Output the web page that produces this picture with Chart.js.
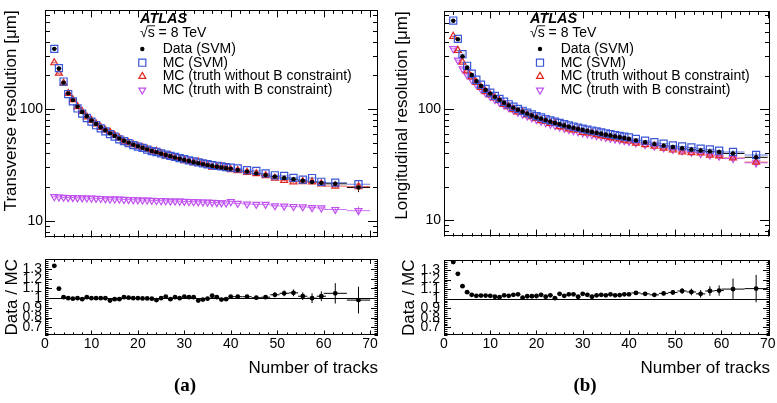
<!DOCTYPE html>
<html>
<head>
<meta charset="utf-8">
<script src="https://cdn.jsdelivr.net/npm/chart.js@4.4.1/dist/chart.umd.min.js"></script>
<style>
  body { margin: 0; background: #fff; width: 777px; height: 403px; overflow: hidden; position: relative; }
  canvas { position: absolute; }
  .tag { position: absolute; font: bold 19px "Liberation Serif", "DejaVu Serif", serif; transform: translate(-50%, -50%); color: #000; }
</style>
</head>
<body>
<canvas id="mainT" width="390" height="248" style="left:0;top:0"></canvas>
<canvas id="ratioT" width="390" height="132" style="left:0;top:248px"></canvas>
<canvas id="mainL" width="387" height="248" style="left:390px;top:0"></canvas>
<canvas id="ratioL" width="387" height="132" style="left:390px;top:248px"></canvas>
<div class="tag" style="left:185px;top:385px">(a)</div>
<div class="tag" style="left:585px;top:385px">(b)</div>
<script>
// bins: number of tracks (bin centres) and half widths
const nTracks = [2, 3, 4, 5, 6, 7, 8, 9, 10, 11, 12, 13, 14, 15, 16, 17, 18, 19, 20,
  21, 22, 23, 24, 25, 26, 27, 28, 29, 30, 31, 32, 33, 34, 35, 36, 37, 38, 39, 40,
  41.5, 43.5, 45.5, 47.5, 49.5, 51.5, 53.5, 55.5, 57.5, 59.5, 62.5, 67.5];
const binHalfWidth = [0.5, 0.5, 0.5, 0.5, 0.5, 0.5, 0.5, 0.5, 0.5, 0.5, 0.5, 0.5, 0.5, 0.5, 0.5, 0.5, 0.5, 0.5, 0.5,
  0.5, 0.5, 0.5, 0.5, 0.5, 0.5, 0.5, 0.5, 0.5, 0.5, 0.5, 0.5, 0.5, 0.5, 0.5, 0.5, 0.5, 0.5, 0.5, 0.5,
  1, 1, 1, 1, 1, 1, 1, 1, 1, 1, 2.5, 2.5];
const relErr = [0.004, 0.004, 0.004, 0.004, 0.004, 0.004, 0.004, 0.004, 0.004, 0.004, 0.004, 0.004, 0.004, 0.004, 0.004, 0.004, 0.004, 0.004, 0.004,
  0.004, 0.004, 0.004, 0.004, 0.004, 0.004, 0.004, 0.004, 0.004, 0.004, 0.004, 0.004, 0.004, 0.004, 0.004, 0.004, 0.004, 0.004, 0.004, 0.004,
  0.008, 0.009, 0.01, 0.012, 0.014, 0.016, 0.018, 0.02, 0.025, 0.028, 0.04, 0.09];

// (a) transverse resolution [um]
const dataTrans = [345, 230, 172, 138, 120, 105, 94, 86, 79, 73.5, 68.5, 64.5, 60.5, 57.5, 54.5, 52, 50, 48, 46.5,
  45, 43.5, 42, 41, 39.8, 38.7, 37.7, 36.7, 35.8, 35, 34.2, 33.4, 32.7, 32, 31.4, 30.9, 30.4, 29.9, 29.5, 29.1,
  28.5, 27.5, 26.5, 25.6, 24.8, 24.1, 23.5, 22.8, 22.2, 21.8, 21.4, 19.8];
const mcSvmTrans = [345, 232, 176, 136, 117, 101, 91, 83, 77, 71.5, 67, 63, 59.5, 56.5, 53.5, 51.5, 49.5, 47.5, 46,
  44.8, 43.3, 42, 41.2, 40, 39, 38, 37.2, 36.3, 35.5, 34.7, 34, 33.3, 32.6, 32, 31.5, 31, 30.6, 30.2, 29.8,
  29.4, 28.3, 27.9, 26.5, 25.5, 25.2, 24.2, 23.3, 24.1, 22.3, 21.9, 21.2];
const truthTrans = [259, 209, 170, 138, 121, 105, 95, 85, 79, 73.5, 68.5, 64.5, 62, 58, 55, 51.5, 49.8, 48, 46.5,
  45.1, 43.6, 42.2, 41.8, 39.8, 38.1, 38.1, 36.3, 35.8, 34.5, 33.9, 33.1, 33.5, 32.5, 31.6, 30.1, 30.1, 30.4, 29.8, 28.7,
  28.1, 27.1, 26.4, 25.3, 24, 23, 22.3, 22.4, 22.2, 21.4, 20.4, 20.2];
const truthBTrans = [16.4, 16.3, 16.2, 16.1, 16.1, 16.0, 16.0, 15.95, 15.9, 15.85, 15.8, 15.7, 15.6, 15.65, 15.6, 15.5, 15.45, 15.4, 15.35,
  15.3, 15.3, 15.2, 15.15, 15.1, 15.05, 15.0, 15.0, 14.95, 14.9, 14.85, 14.8, 14.75, 14.7, 14.65, 14.6, 14.5, 14.45, 14.4, 14.8,
  14.3, 14.1, 14.0, 14.0, 13.6, 13.5, 13.4, 13.3, 13.1, 13.0, 12.6, 12.3];
const ratioTrans = [1.334, 1.098, 1.01, 1.0, 0.995, 1.0, 0.99, 1.01, 1.0, 1.0, 1.0, 1.0, 0.975, 0.99, 0.99, 1.01, 1.005, 1.0, 1.0,
  0.997, 0.997, 0.995, 0.98, 1.0, 1.015, 0.99, 1.01, 1.0, 1.015, 1.01, 1.01, 0.975, 0.985, 0.995, 1.025, 1.01, 0.985, 0.99, 1.015,
  1.015, 1.015, 1.005, 1.01, 1.035, 1.05, 1.055, 1.02, 1.0, 1.02, 1.05, 0.98];
const ratioErrTrans = [0.004, 0.004, 0.004, 0.004, 0.004, 0.004, 0.004, 0.004, 0.004, 0.004, 0.004, 0.004, 0.004, 0.004, 0.004, 0.004, 0.004, 0.004, 0.004,
  0.006, 0.006, 0.006, 0.006, 0.006, 0.006, 0.006, 0.006, 0.006, 0.006, 0.006, 0.006, 0.006, 0.006, 0.006, 0.006, 0.006, 0.006, 0.006, 0.006,
  0.012, 0.014, 0.016, 0.02, 0.026, 0.03, 0.035, 0.04, 0.05, 0.05, 0.105, 0.138];

// (b) longitudinal resolution [um]
const dataLong = [628, 427, 299, 236, 203, 179, 162, 149, 138, 129, 121, 114, 108, 103, 98.5, 94.5, 91, 87.5, 84.5,
  82, 79.5, 77, 75, 73, 71, 69.3, 67.7, 66.2, 64.8, 63.5, 62.2, 61, 59.8, 58.7, 57.7, 56.7, 55.7, 54.8, 53.8,
  52.2, 50.2, 48.3, 46.8, 45.5, 44.3, 43.2, 42.3, 41.5, 41, 39.8, 36.7];
const mcSvmLong = [630, 430, 313, 246, 209, 184, 166, 152, 141, 131.5, 123.5, 116.5, 110.5, 105, 100.5, 96.5, 93, 89.5, 86.5,
  84, 81.3, 79, 77, 75, 73, 71.2, 69.5, 68, 66.6, 65.2, 64, 62.8, 61.6, 60.5, 59.4, 58.3, 57.3, 56.4, 55.6,
  53.8, 51.8, 50.3, 48.8, 47, 46, 45, 44, 43.2, 42.1, 41, 38.5];
const truthLong = [454, 339, 265, 221, 195, 174, 157, 144, 134, 126.5, 119, 110, 105, 99, 94.3, 93.6, 88.8, 85.4, 82.2,
  78.8, 77.9, 74.4, 74.6, 69.5, 68.9, 66.3, 64.8, 64.9, 61.7, 61.1, 61, 58.9, 57.5, 56.7, 55.2, 54.8, 53.7, 52.4, 51.5,
  49.2, 47.8, 46.4, 44.4, 42.7, 41, 40.4, 40.3, 38.4, 37.8, 36.2, 33.2];
const truthBLong = [351, 277, 231, 203, 184, 167, 152, 140, 130, 122, 115, 108.5, 103, 98, 93.5, 90, 86.5, 83.3, 80.3,
  77.7, 75.3, 73, 71, 69, 67.2, 65.5, 63.9, 62.5, 61.1, 59.9, 58.7, 57.6, 56.5, 55.5, 54.5, 53.6, 52.7, 51.9, 51.1,
  49.5, 47.8, 46.3, 44.7, 43.3, 42, 40.8, 39.7, 38.5, 37.6, 35.8, 32.7];
const ratioLong = [1.383, 1.26, 1.13, 1.068, 1.04, 1.03, 1.032, 1.032, 1.03, 1.02, 1.015, 1.035, 1.03, 1.04, 1.045, 1.01, 1.025, 1.025, 1.028,
  1.04, 1.02, 1.035, 1.005, 1.05, 1.03, 1.045, 1.045, 1.02, 1.05, 1.04, 1.02, 1.035, 1.04, 1.035, 1.045, 1.035, 1.037, 1.045, 1.045,
  1.06, 1.05, 1.04, 1.055, 1.065, 1.08, 1.07, 1.05, 1.08, 1.085, 1.1, 1.105];
const ratioErrLong = [0.004, 0.004, 0.004, 0.004, 0.004, 0.004, 0.004, 0.004, 0.004, 0.004, 0.004, 0.004, 0.004, 0.004, 0.004, 0.004, 0.004, 0.004, 0.004,
  0.006, 0.006, 0.006, 0.006, 0.006, 0.006, 0.006, 0.006, 0.006, 0.006, 0.006, 0.006, 0.006, 0.006, 0.006, 0.006, 0.006, 0.006, 0.006, 0.006,
  0.012, 0.014, 0.018, 0.02, 0.025, 0.03, 0.035, 0.04, 0.05, 0.054, 0.11, 0.143];

const FONT = '"Liberation Sans", Arial, Helvetica, sans-serif';
Chart.defaults.font.family = FONT;
Chart.defaults.color = '#000';

const styles = {
  data: { label: 'Data (SVM)', pointStyle: 'circle', pointRadius: 2.2, borderWidth: 0,
    borderColor: '#000', backgroundColor: '#000', barColor: '#000' },
  mcSvm: { label: 'MC (SVM)', pointStyle: 'rect', pointRadius: 5, borderWidth: 1.2,
    borderColor: '#3a55d6', backgroundColor: 'rgba(0,0,0,0)', barColor: 'rgba(58,85,214,0.75)' },
  truth: { label: 'MC (truth without B constraint)', pointStyle: 'triangle', pointRadius: 4, borderWidth: 1.2,
    borderColor: '#e0261f', backgroundColor: 'rgba(0,0,0,0)', barColor: 'rgba(224,38,31,0.75)' },
  truthB: { label: 'MC (truth with B constraint)', pointStyle: 'triangle', pointRotation: 180, pointRadius: 4, borderWidth: 1.2,
    borderColor: '#c050f0', backgroundColor: 'rgba(0,0,0,0)', barColor: 'rgba(192,80,240,0.8)' }
};

function points(xs, ys) {
  return xs.map((x, i) => ({ x: x, y: ys[i] }));
}

// draws x/y error bars (and the unity line of the ratio pads) below the markers
const errorBars = {
  id: 'errorBars',
  beforeDatasetsDraw(chart, args, opts) {
    const { ctx, chartArea: a, scales: { x, y } } = chart;
    ctx.save();
    if (opts.unity) {
      const py = Math.round(y.getPixelForValue(1)) + 0.5;
      ctx.strokeStyle = '#000';
      ctx.lineWidth = 1;
      ctx.beginPath();
      ctx.moveTo(a.left, py);
      ctx.lineTo(a.right, py);
      ctx.stroke();
    }
    chart.data.datasets.forEach((ds) => {
      if (!ds.xErr) return;
      ctx.strokeStyle = ds.barColor;
      ctx.lineWidth = 1;
      ctx.beginPath();
      ds.data.forEach((p, j) => {
        const px = x.getPixelForValue(p.x);
        const py = y.getPixelForValue(p.y);
        ctx.moveTo(x.getPixelForValue(p.x - ds.xErr[j]), py);
        ctx.lineTo(x.getPixelForValue(p.x + ds.xErr[j]), py);
        const ye = ds.yErr ? ds.yErr[j] : 0;
        if (ye) {
          ctx.moveTo(px, y.getPixelForValue(p.y - ye));
          ctx.lineTo(px, y.getPixelForValue(p.y + ye));
        }
      });
      ctx.stroke();
    });
    ctx.restore();
  }
};

function linearTicks(scale, step, sub) {
  const out = [];
  const d = step / sub;
  const k0 = Math.ceil(scale.min / d - 1e-6);
  const k1 = Math.floor(scale.max / d + 1e-6);
  for (let k = k0; k <= k1; k++) {
    out.push({ v: k * d, major: k % sub === 0 });
  }
  return out;
}

function logTicks(scale) {
  const out = [];
  const e0 = Math.floor(Math.log10(scale.min));
  const e1 = Math.ceil(Math.log10(scale.max));
  for (let e = e0; e <= e1; e++) {
    for (let m = 1; m <= 9; m++) {
      const v = m * Math.pow(10, e);
      if (v >= scale.min && v <= scale.max) out.push({ v: v, major: m === 1 });
    }
  }
  return out;
}

// ROOT-like frame with ticks pointing inwards on all four sides
const rootFrame = {
  id: 'rootFrame',
  afterDatasetsDraw(chart, args, o) {
    const { ctx, chartArea: a, scales: { x, y } } = chart;
    ctx.save();
    ctx.strokeStyle = '#000';
    ctx.lineWidth = 1;
    ctx.beginPath();
    linearTicks(x, o.xStep, o.xSub).forEach((t) => {
      const px = Math.round(x.getPixelForValue(t.v)) + 0.5;
      const L = t.major ? o.xMaj : o.xMin;
      ctx.moveTo(px, a.bottom); ctx.lineTo(px, a.bottom - L);
      ctx.moveTo(px, a.top); ctx.lineTo(px, a.top + L);
    });
    const yt = y.type === 'logarithmic' ? logTicks(y) : linearTicks(y, o.yStep, o.ySub);
    yt.forEach((t) => {
      const py = Math.round(y.getPixelForValue(t.v)) + 0.5;
      const L = t.major ? o.yMaj : o.yMin;
      ctx.moveTo(a.left, py); ctx.lineTo(a.left + L, py);
      ctx.moveTo(a.right, py); ctx.lineTo(a.right - L, py);
    });
    ctx.stroke();
    ctx.strokeRect(Math.round(a.left) + 0.5, Math.round(a.top) + 0.5,
      Math.round(a.right - a.left) - 1, Math.round(a.bottom - a.top) - 1);
    ctx.restore();
  }
};

function drawMarker(ctx, ds, x, y) {
  const r = ds.pointRadius;
  ctx.save();
  ctx.lineWidth = ds.borderWidth;
  ctx.strokeStyle = ds.borderColor;
  ctx.fillStyle = ds.backgroundColor;
  ctx.beginPath();
  if (ds.pointStyle === 'circle') {
    ctx.arc(x, y, r, 0, 2 * Math.PI);
  } else if (ds.pointStyle === 'rect') {
    const s = r * Math.SQRT1_2;
    ctx.rect(x - s, y - s, 2 * s, 2 * s);
  } else {
    let rad = (ds.pointRotation || 0) * Math.PI / 180;
    ctx.moveTo(x + Math.sin(rad) * r, y - Math.cos(rad) * r);
    for (let i = 0; i < 2; i++) {
      rad += 2 * Math.PI / 3;
      ctx.lineTo(x + Math.sin(rad) * r, y - Math.cos(rad) * r);
    }
    ctx.closePath();
  }
  ctx.fill();
  if (ds.borderWidth > 0) ctx.stroke();
  ctx.restore();
}

// ATLAS label, energy and legend
const atlasLegend = {
  id: 'atlasLegend',
  afterDraw(chart, args, o) {
    if (o.x === undefined) return;
    const ctx = chart.ctx;
    ctx.save();
    ctx.fillStyle = '#000';
    ctx.textBaseline = 'middle';
    ctx.font = 'italic bold 14.5px ' + FONT;
    ctx.fillText('ATLAS', o.x, o.atlasY);
    ctx.font = '14px ' + FONT;
    ctx.fillText('√s = 8 TeV', o.x, o.sqrtsY);
    const w1 = ctx.measureText('√').width;
    const w2 = ctx.measureText('s').width;
    ctx.strokeStyle = '#000';
    ctx.lineWidth = 0.9;
    ctx.beginPath();
    ctx.moveTo(o.x + w1 - 0.5, o.sqrtsY - 7.5);
    ctx.lineTo(o.x + w1 + w2 + 0.5, o.sqrtsY - 7.5);
    ctx.stroke();
    chart.data.datasets.forEach((ds, i) => {
      const y = o.rowY + i * o.rowGap;
      drawMarker(ctx, ds, o.markerX, y);
      ctx.fillStyle = '#000';
      ctx.fillText(ds.label, o.textX, y);
    });
    ctx.restore();
  }
};

function makeMain(id, c) {
  const series = [[c.data, styles.data], [c.mcSvm, styles.mcSvm], [c.truth, styles.truth], [c.truthB, styles.truthB]];
  return new Chart(document.getElementById(id), {
    type: 'scatter',
    data: {
      datasets: series.map(([vals, st]) => Object.assign({
        data: points(nTracks, vals),
        xErr: binHalfWidth,
        yErr: vals.map((v, i) => v * relErr[i])
      }, st))
    },
    options: {
      responsive: false,
      animation: false,
      devicePixelRatio: 1,
      events: [],
      layout: { padding: { left: 0, top: 4, right: c.padRight, bottom: 2 } },
      plugins: {
        legend: { display: false },
        tooltip: { enabled: false },
        rootFrame: { xStep: 10, xSub: 5, xMaj: 7, xMin: 3.5, yMaj: 10, yMin: 5 },
        atlasLegend: c.legend
      },
      scales: {
        x: {
          type: 'linear', min: 0, max: c.xMax,
          grid: { display: false, drawTicks: false }, border: { display: false },
          ticks: { display: false, stepSize: 10, includeBounds: false },
          afterFit: (s) => { s.height = 0; }
        },
        y: {
          type: 'logarithmic', min: 7.06, max: 762,
          grid: { display: false, drawTicks: false }, border: { display: false },
          ticks: {
            autoSkip: false, padding: c.tickPad, color: '#000', font: { size: 14 },
            callback: (v) => (v === 10 || v === 100) ? String(v) : ''
          },
          title: {
            display: true, text: c.title, align: 'end', color: '#000',
            font: { size: 17 }, padding: { top: c.titlePad, bottom: 0 }
          },
          afterFit: (s) => { s.width = c.yWidth; }
        }
      }
    },
    plugins: [errorBars, rootFrame, atlasLegend]
  });
}

function makeRatio(id, c) {
  return new Chart(document.getElementById(id), {
    type: 'scatter',
    data: {
      datasets: [Object.assign({
        data: points(nTracks, c.ratio), xErr: binHalfWidth, yErr: c.ratioErr
      }, styles.data, { pointRadius: 2.4 })]
    },
    options: {
      responsive: false,
      animation: false,
      devicePixelRatio: 1,
      events: [],
      layout: { padding: { left: 0, top: 3, right: c.padRight, bottom: 0 } },
      plugins: {
        legend: { display: false },
        tooltip: { enabled: false },
        errorBars: { unity: true },
        rootFrame: { xStep: 10, xSub: 5, xMaj: 4.5, xMin: 2.5, yStep: 0.1, ySub: 5, yMaj: 7, yMin: 3.5 }
      },
      scales: {
        x: {
          type: 'linear', min: 0, max: c.xMax,
          grid: { display: false, drawTicks: false }, border: { display: false },
          ticks: { stepSize: 10, includeBounds: false, autoSkip: false, maxRotation: 0, padding: 1, color: '#000', font: { size: 14 } },
          title: {
            display: true, text: 'Number of tracks', align: 'end', color: '#000',
            font: { size: 17 }, padding: { top: 0, bottom: 1.8 }
          },
          afterFit: (s) => { s.height = 45; }
        },
        y: {
          type: 'linear', min: 0.62, max: 1.4,
          grid: { display: false, drawTicks: false }, border: { display: false },
          ticks: {
            stepSize: 0.1, includeBounds: false, autoSkip: false, padding: c.tickPad, color: '#000', font: { size: 14 },
            callback: (v) => (v > 0.65 && v < 1.35) ? String(Math.round(v * 10) / 10) : ''
          },
          title: {
            display: true, text: 'Data / MC', align: 'center', color: '#000',
            font: { size: 17 }, padding: { top: c.titlePad, bottom: 0 }
          },
          afterFit: (s) => { s.width = c.yWidth; }
        }
      }
    },
    plugins: [errorBars, rootFrame]
  });
}

makeMain('mainT', {
  data: dataTrans, mcSvm: mcSvmTrans, truth: truthTrans, truthB: truthBTrans,
  title: 'Transverse resolution [μm]', xMax: 71.7, padRight: 12, yWidth: 45, tickPad: 2, titlePad: 1,
  legend: { x: 140, atlasY: 18.5, sqrtsY: 33.3, markerX: 142.3, textX: 162.7, rowY: 49, rowGap: 13.7 }
});
makeRatio('ratioT', {
  ratio: ratioTrans, ratioErr: ratioErrTrans, xMax: 71.7, padRight: 12, yWidth: 45, tickPad: 3, titlePad: 2.6
});
makeMain('mainL', {
  data: dataLong, mcSvm: mcSvmLong, truth: truthLong, truthB: truthBLong,
  title: 'Longitudinal resolution [μm]', xMax: 70.5, padRight: 7, yWidth: 54, tickPad: 3, titlePad: 2.3,
  legend: { x: 140, atlasY: 18.5, sqrtsY: 33.3, markerX: 150, textX: 170.7, rowY: 49, rowGap: 13.7 }
});
makeRatio('ratioL', {
  ratio: ratioLong, ratioErr: ratioErrLong, xMax: 70.5, padRight: 7, yWidth: 54, tickPad: 4, titlePad: 9.5
});
</script>
</body>
</html>
